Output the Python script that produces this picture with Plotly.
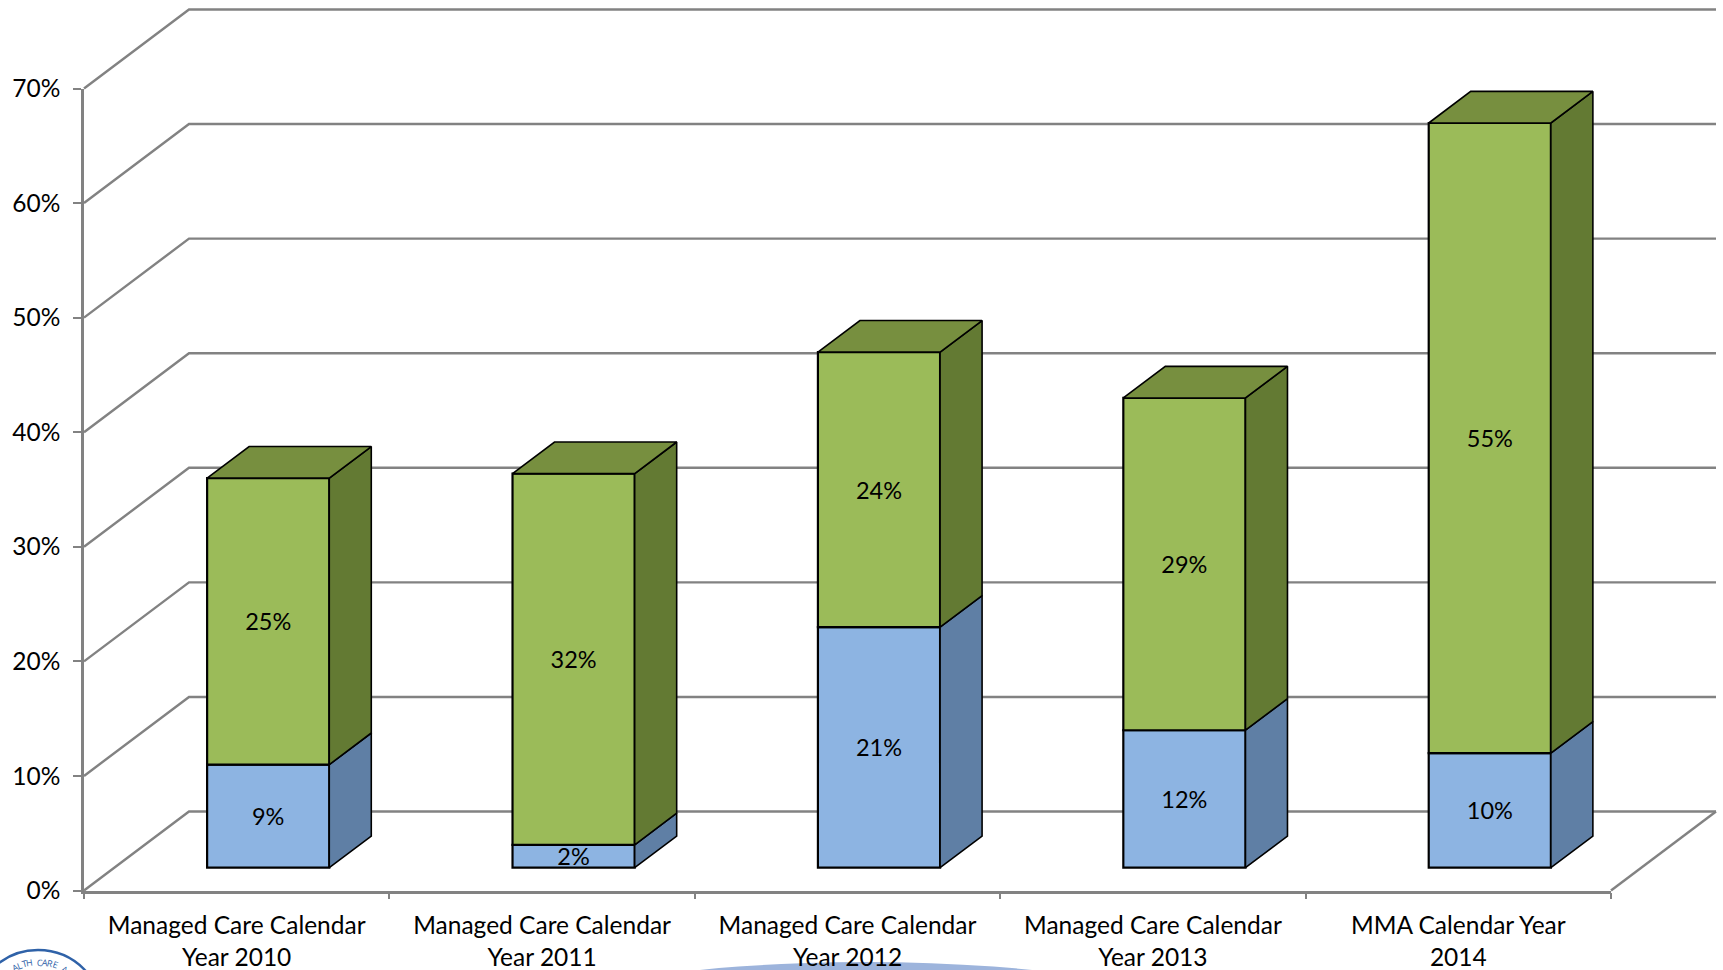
import math
import plotly.graph_objects as go

categories = ["Managed Care Calendar<br>Year 2010", "Managed Care Calendar<br>Year 2011",
              "Managed Care Calendar<br>Year 2012", "Managed Care Calendar<br>Year 2013",
              "MMA Calendar Year<br>2014"]
blue_values = [9, 2, 21, 12, 10]
green_values = [25, 32.4, 24, 29, 55]
y_ticks = [0, 10, 20, 30, 40, 50, 60, 70]

FONT = "Lato"
GRID = "#828282"
W, H = 1723, 970
LEFT, RIGHT, TOP, BOTTOM = 84, 1611, 88.5, 890.5   # front plane, in page pixels
PX_X = (RIGHT - LEFT) / len(categories)
PX_Y = (BOTTOM - TOP) / 70
DX, DY = 105 / PX_X, 79 / PX_Y      # chart depth in axis units
BAR_W = 0.4
Z0, Z1 = 0.30, 0.70                 # bar position inside the chart depth

fig = go.Figure()
n = len(categories)

# back wall and floor lines: full-page hidden subplot, drawn under the bars
for v in y_ticks:
    fig.add_trace(go.Scatter(x=[0, DX, n + DX], y=[v, v + DY, v + DY], mode="lines",
                             line=dict(color=GRID, width=2.4),
                             hoverinfo="skip", showlegend=False))
fig.add_trace(go.Scatter(x=[n + DX, n], y=[DY, 0], mode="lines",
                         line=dict(color=GRID, width=2.4),
                         hoverinfo="skip", showlegend=False))


def poly(xs, ys, fill):
    fig.add_trace(go.Scatter(x=xs, y=ys, mode="lines", fill="toself", fillcolor=fill,
                             line=dict(color="black", width=1.6),
                             hoverinfo="skip", showlegend=False, xaxis="x2", yaxis="y2"))


centers = [i + 0.5 + Z0 * DX for i in range(n)]
y0 = Z0 * DY - 0.08
label_font = dict(family=FONT, size=23.5, color="black")
fig.add_trace(go.Bar(x=centers, y=blue_values, base=[y0] * n, width=BAR_W,
                     marker=dict(color="#8DB4E2", line=dict(color="black", width=2.2)),
                     text=[f"{round(v)}%" for v in blue_values], textposition="inside",
                     insidetextanchor="middle", textangle=0, constraintext="none",
                     textfont=label_font, showlegend=False, hoverinfo="skip",
                     xaxis="x2", yaxis="y2"))
fig.add_trace(go.Bar(x=centers, y=green_values, base=[y0 + b for b in blue_values], width=BAR_W,
                     marker=dict(color="#9BBB59", line=dict(color="black", width=2.2)),
                     text=[f"{round(v)}%" for v in green_values], textposition="inside",
                     insidetextanchor="middle", textangle=0, constraintext="none",
                     textfont=label_font, showlegend=False, hoverinfo="skip",
                     xaxis="x2", yaxis="y2"))

# side and top faces follow from the same values
d = Z1 - Z0
for c, b, g in zip(centers, blue_values, green_values):
    xr = c + BAR_W / 2
    xl = c - BAR_W / 2
    t1, t2 = y0 + b, y0 + b + g
    poly([xr, xr + d * DX, xr + d * DX, xr, xr], [y0, y0 + d * DY, t1 + d * DY, t1, y0], "#5F7FA5")
    poly([xr, xr + d * DX, xr + d * DX, xr, xr], [t1, t1 + d * DY, t2 + d * DY, t2, t1], "#637A33")
    poly([xl, xl + d * DX, xr + d * DX, xr, xl], [t2, t2 + d * DY, t2 + d * DY, t2, t2], "#778F3F")


def px(x):
    return x / W


def py(y):
    return 1 - y / H


# logo fragment lettering, bottom-left (placed through the hidden page-wide axes)
annotations = []
LOGO_CX, LOGO_CY, LOGO_R = 38, 1015, 65
logo_text = "ALTH CARE A"
for i, ch in enumerate(logo_text):
    ang = (i - 4.6) * 0.098
    r = LOGO_R - 12
    annotations.append(dict(xref="x", yref="y", x=(LOGO_CX + r * math.sin(ang) - LEFT) / PX_X,
                            y=(BOTTOM - (LOGO_CY - r * math.cos(ang))) / PX_Y, text=ch, showarrow=False,
                            textangle=math.degrees(ang), xanchor="center", yanchor="middle",
                            font=dict(family="Open Sans", size=9, color="#2F62A8")))

fig.update_layout(
    width=W, height=H, autosize=False,
    margin=dict(l=0, r=0, t=0, b=0, pad=0),
    plot_bgcolor="rgba(0,0,0,0)", paper_bgcolor="white", barmode="overlay",
    font=dict(family=FONT, size=24.5, color="black"),
    # page-wide hidden subplot holding the wall lines
    xaxis=dict(domain=[0, 1], range=[-LEFT / PX_X, (W - LEFT) / PX_X], visible=False, automargin=False),
    yaxis=dict(domain=[0, 1], range=[-(H - BOTTOM) / PX_Y, BOTTOM / PX_Y], visible=False, automargin=False),
    # front-plane subplot with the real axes and the bars
    xaxis2=dict(domain=[px(LEFT), px(RIGHT)], anchor="y2", range=[0, n], tickmode="array",
                tickvals=[i + 0.5 for i in range(n)], ticktext=categories, ticks="", automargin=False,
                showline=True, linecolor=GRID, linewidth=2.6, tickangle=0, showgrid=False, zeroline=False,
                ticklabelstandoff=11,
                minor=dict(tickmode="array", tickvals=list(range(n + 1)), ticks="outside", ticklen=6,
                           tickcolor=GRID, tickwidth=1.5, showgrid=False),
                tickfont=dict(family=FONT, size=24.5)),
    yaxis2=dict(domain=[py(BOTTOM), py(TOP)], anchor="x2", range=[0, 70], tickmode="array",
                tickvals=y_ticks, ticktext=[f"{v}%" for v in y_ticks], automargin=False,
                ticks="outside", ticklen=8, tickcolor=GRID, tickwidth=1.5, showline=True,
                linecolor=GRID, linewidth=2.6, ticklabelstandoff=8, showgrid=False, zeroline=False,
                tickfont=dict(family=FONT, size=24.5)),
    shapes=[
        dict(type="circle", xref="paper", yref="paper", layer="below",
             x0=px(533), x1=px(1199), y0=py(1082), y1=py(962),
             line=dict(width=0), fillcolor="#9DB4DC"),
        dict(type="circle", xref="paper", yref="paper", layer="below",
             x0=px(LOGO_CX - LOGO_R), x1=px(LOGO_CX + LOGO_R), y0=py(LOGO_CY + LOGO_R), y1=py(LOGO_CY - LOGO_R),
             line=dict(width=2.4, color="#2F62A8"), fillcolor="white"),
    ],
    annotations=annotations,
)
fig.write_html("out.html", config={"displayModeBar": False},
               post_script="document.body.style.margin='0';")
